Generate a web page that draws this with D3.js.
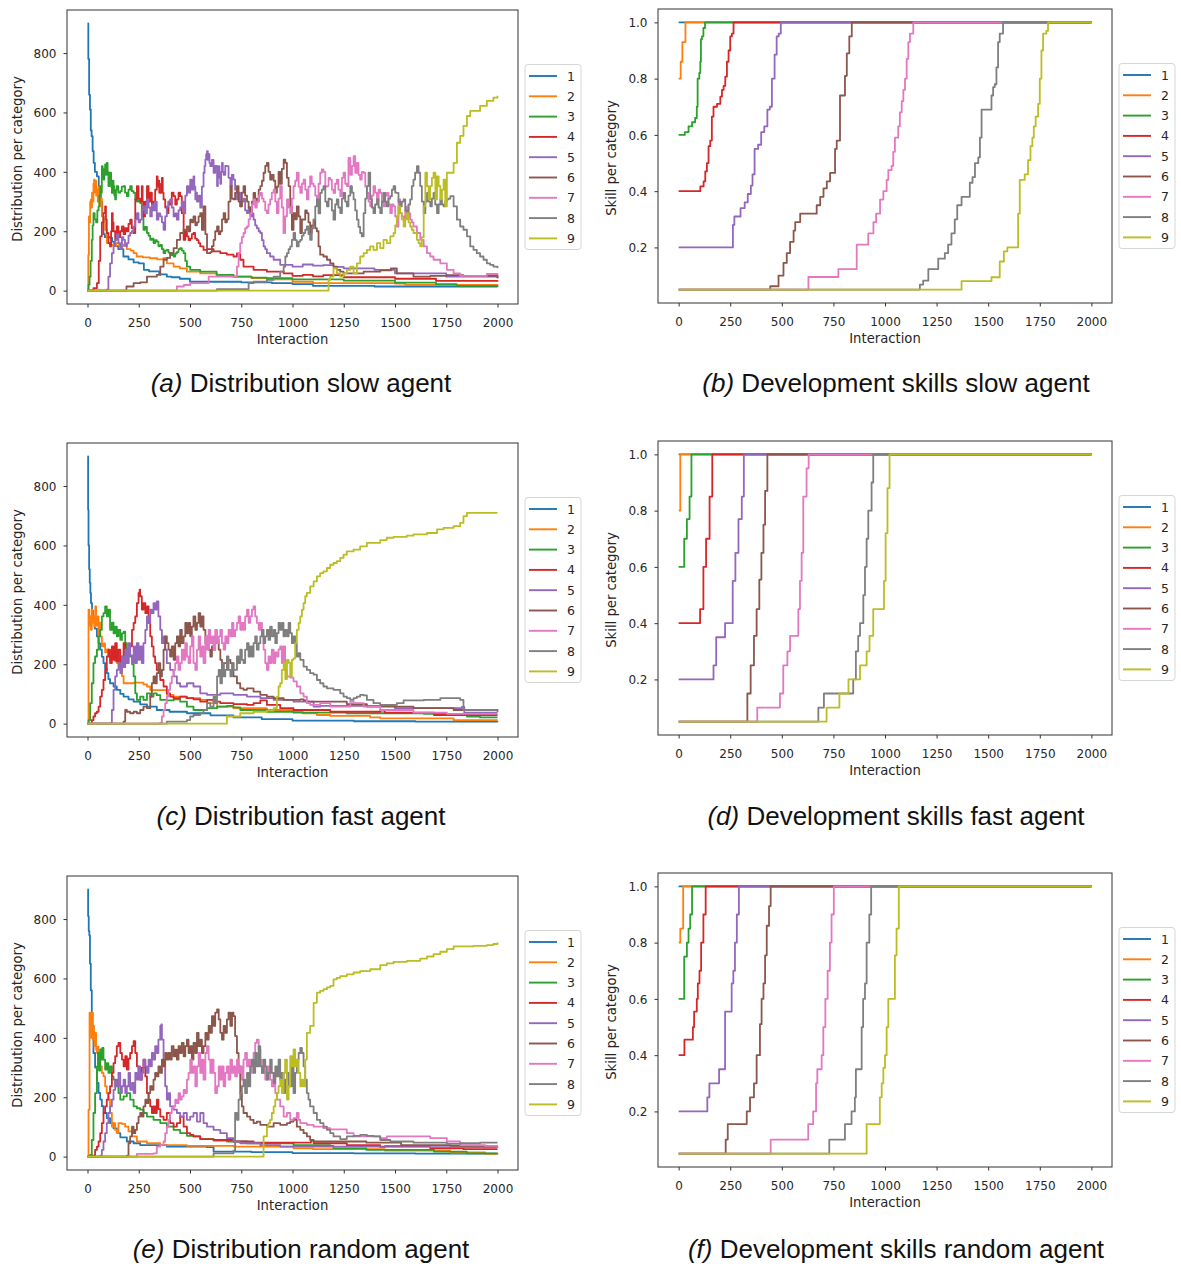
<!DOCTYPE html>
<html>
<head>
<meta charset="utf-8">
<script src="https://cdn.jsdelivr.net/npm/d3@7"></script>
<style>
  body { margin: 0; background: #fff; }
  svg { display: block; }
</style>
</head>
<body>
<svg id="fig" width="1181" height="1266"></svg>
<script>
// ---------- shared labels ----------
const categories = ["1", "2", "3", "4", "5", "6", "7", "8", "9"];
const palette = ["#1f77b4", "#ff7f0e", "#2ca02c", "#d62728", "#9467bd", "#8c564b", "#e377c2", "#7f7f7f", "#bcbd22"];
const xTicks = [0, 250, 500, 750, 1000, 1250, 1500, 1750, 2000];
const distTicks = [0, 200, 400, 600, 800];
const skillTicks = [0.2, 0.4, 0.6, 0.8, 1.0];

// ---------- (a) distribution, slow agent: [interaction, count] ----------
const slowDist1 = [[0,900],[4,780],[8,660],[12,610],[16,540],[20,520],[25,470],[30,430],[36,400],[46,385],[55,340],[65,300],[72,250],[78,190],[85,180],[110,178],[120,165],[130,150],[150,140],[175,115],[200,105],[225,95],[250,92],[275,70],[300,65],[350,55],[387,47],[410,45],[450,40],[500,30],[600,30],[750,28],[900,25],[1000,22],[1100,16],[1400,14],[2000,12]];
const slowDist2 = [[0,0],[4,120],[7,250],[10,230],[13,300],[16,306],[19,280],[22,330],[25,300],[29,360],[32,374],[35,330],[38,370],[42,320],[46,340],[50,300],[54,350],[58,290],[62,284],[66,310],[70,260],[74,250],[78,239],[86,205],[94,160],[110,155],[125,150],[140,160],[155,150],[175,155],[192,140],[210,135],[225,126],[240,115],[270,112],[305,109],[340,105],[370,109],[387,92],[420,81],[450,75],[485,64],[550,58],[630,53],[712,47],[800,42],[875,38],[1000,30],[1100,25],[1500,24],[1550,19],[2000,18]];
const slowDist3 = [[0,0],[5,20],[10,47],[15,100],[21,171],[25,220],[29,261],[35,240],[42,230],[48,270],[54,284],[58,320],[62,352],[66,330],[70,419],[74,380],[78,374],[82,410],[86,425],[90,390],[94,430],[98,400],[102,352],[106,380],[110,397],[115,350],[119,329],[123,370],[127,352],[131,320],[135,307],[139,340],[143,352],[150,330],[160,335],[167,350],[175,352],[183,330],[192,318],[200,340],[208,352],[216,335],[225,329],[233,307],[241,300],[249,305],[257,295],[265,250],[273,205],[281,215],[290,194],[298,185],[306,171],[314,175],[322,160],[330,170],[338,165],[346,150],[355,154],[363,140],[371,126],[379,135],[387,137],[395,128],[403,126],[411,120],[420,115],[428,125],[436,130],[444,140],[452,143],[460,135],[469,126],[477,100],[485,81],[501,70],[550,64],[630,53],[712,47],[800,44],[875,42],[1000,38],[1250,34],[1500,27],[1700,22],[1800,16],[2000,15]];
const slowDist4 = [[0,0],[29,8],[46,25],[55,100],[62,183],[70,230],[78,261],[86,284],[90,240],[94,194],[102,160],[110,149],[115,200],[119,261],[123,230],[127,200],[135,171],[143,216],[151,180],[160,200],[168,216],[176,190],[184,210],[192,200],[200,225],[208,239],[216,210],[225,194],[233,307],[241,352],[249,310],[257,300],[265,352],[269,300],[273,250],[281,300],[290,352],[298,300],[306,330],[314,290],[322,300],[330,340],[338,385],[342,350],[346,370],[350,330],[355,329],[359,360],[363,380],[367,330],[371,307],[379,280],[387,261],[395,300],[403,290],[411,330],[420,318],[428,290],[436,307],[444,330],[452,318],[460,261],[469,171],[477,200],[485,183],[493,170],[501,175],[509,190],[517,194],[525,175],[534,170],[542,160],[550,149],[566,137],[583,140],[615,132],[648,126],[680,121],[712,115],[729,125],[745,104],[761,81],[810,70],[875,64],[957,58],[1000,50],[1050,53],[1100,48],[1150,52],[1250,45],[1500,40],[1700,33],[2000,30]];
const slowDist5 = [[0,0],[94,3],[102,47],[110,92],[119,126],[127,150],[135,171],[143,190],[151,160],[160,140],[168,180],[175,171],[183,150],[192,160],[200,185],[208,194],[216,200],[225,216],[233,240],[241,261],[249,230],[257,239],[265,270],[273,284],[281,260],[290,307],[298,280],[306,250],[314,290],[322,270],[330,300],[338,239],[346,260],[355,250],[363,230],[371,205],[379,250],[387,284],[395,300],[403,307],[411,280],[420,250],[428,260],[436,239],[444,270],[452,280],[460,300],[469,260],[477,320],[485,352],[493,330],[501,374],[509,340],[517,385],[521,350],[526,307],[530,330],[534,300],[542,320],[550,280],[558,350],[566,397],[571,420],[575,442],[579,460],[583,470],[587,440],[591,460],[595,430],[599,419],[607,440],[615,397],[623,420],[632,352],[636,390],[640,419],[644,380],[648,360],[652,400],[656,430],[660,400],[664,390],[672,420],[680,419],[688,380],[697,352],[704,390],[712,374],[720,340],[729,307],[737,330],[745,284],[753,300],[761,310],[769,270],[778,261],[786,280],[794,250],[802,260],[810,239],[818,220],[826,210],[835,200],[843,194],[851,170],[859,149],[867,140],[875,126],[891,115],[908,104],[940,87],[1000,81],[1050,88],[1100,84],[1150,86],[1200,80],[1250,75],[1400,70],[1500,58],[1750,47],[2000,42]];
const slowDist6 = [[0,0],[190,14],[225,25],[257,28],[290,47],[338,53],[355,81],[371,104],[387,110],[403,126],[420,143],[436,171],[452,194],[469,205],[485,216],[493,200],[501,239],[509,230],[517,250],[526,220],[534,230],[542,250],[550,261],[558,205],[566,284],[575,190],[583,126],[599,130],[607,150],[615,171],[623,200],[632,216],[640,190],[648,200],[656,240],[664,261],[672,230],[680,240],[688,300],[697,352],[704,310],[712,307],[720,330],[729,352],[737,300],[745,284],[753,330],[761,352],[769,320],[778,300],[786,280],[794,261],[802,300],[810,329],[818,310],[826,300],[835,340],[843,352],[851,370],[859,397],[867,420],[875,430],[883,400],[891,374],[899,390],[908,370],[916,330],[924,350],[932,400],[940,360],[948,410],[957,441],[965,430],[973,380],[981,352],[989,284],[997,205],[1005,261],[1013,240],[1021,284],[1030,250],[1038,194],[1046,240],[1054,239],[1062,270],[1070,261],[1078,230],[1086,194],[1094,220],[1103,239],[1111,210],[1119,200],[1127,149],[1135,121],[1151,115],[1168,104],[1184,92],[1200,81],[1216,70],[1233,64],[1249,58],[1347,64],[1428,68],[1480,75],[1509,58],[1590,47],[1672,50],[1753,52],[1834,50],[2000,42]];
const slowDist7 = [[0,0],[436,14],[470,19],[501,25],[591,47],[700,47],[729,81],[737,126],[745,160],[753,180],[761,194],[769,210],[778,216],[786,240],[794,261],[802,290],[810,307],[818,280],[826,300],[835,320],[843,329],[851,310],[859,300],[867,270],[875,261],[883,290],[891,307],[899,330],[908,340],[916,300],[924,261],[932,310],[940,352],[948,280],[956,194],[964,250],[973,307],[981,280],[989,261],[997,310],[1005,352],[1013,370],[1021,397],[1030,350],[1038,329],[1046,360],[1054,374],[1062,340],[1070,307],[1078,350],[1086,385],[1094,360],[1103,352],[1111,320],[1119,307],[1127,360],[1135,397],[1143,408],[1151,400],[1160,350],[1168,352],[1176,380],[1184,374],[1192,340],[1200,329],[1208,360],[1216,374],[1224,340],[1233,318],[1241,380],[1249,397],[1257,360],[1265,352],[1273,447],[1282,390],[1290,420],[1298,453],[1306,397],[1314,430],[1322,390],[1330,374],[1338,400],[1347,397],[1355,350],[1363,329],[1371,300],[1379,284],[1387,320],[1395,352],[1403,330],[1412,307],[1420,340],[1428,329],[1436,300],[1444,284],[1452,320],[1460,329],[1468,290],[1477,261],[1485,290],[1493,284],[1501,250],[1509,216],[1517,307],[1525,261],[1533,250],[1542,239],[1550,270],[1558,284],[1566,260],[1574,239],[1582,230],[1590,216],[1607,194],[1623,171],[1640,149],[1656,126],[1672,115],[1688,104],[1721,92],[1753,70],[1786,58],[1818,50],[1883,50],[1948,56],[2000,53]];
const slowDist8 = [[0,0],[631,5],[786,25],[810,30],[875,36],[908,47],[940,64],[957,81],[965,115],[973,126],[981,140],[989,149],[997,171],[1005,194],[1013,170],[1021,149],[1030,165],[1038,171],[1046,185],[1054,194],[1062,205],[1070,216],[1078,190],[1086,171],[1094,210],[1103,239],[1111,284],[1119,307],[1127,260],[1135,329],[1143,340],[1151,352],[1160,300],[1168,284],[1176,310],[1184,307],[1192,270],[1200,239],[1208,290],[1216,307],[1224,280],[1233,261],[1241,310],[1249,329],[1257,300],[1265,284],[1273,320],[1282,352],[1290,330],[1298,307],[1306,270],[1314,239],[1322,215],[1330,194],[1338,183],[1347,261],[1355,310],[1363,352],[1371,397],[1379,307],[1387,280],[1395,261],[1403,290],[1412,307],[1420,280],[1428,261],[1436,300],[1444,329],[1452,300],[1460,284],[1468,310],[1477,318],[1485,340],[1493,352],[1501,330],[1509,329],[1517,300],[1525,284],[1533,300],[1542,307],[1550,270],[1558,250],[1566,290],[1574,307],[1582,352],[1590,374],[1598,397],[1607,419],[1615,397],[1623,352],[1631,300],[1640,261],[1648,300],[1656,329],[1664,300],[1672,284],[1680,310],[1688,329],[1696,290],[1705,261],[1713,290],[1721,307],[1729,290],[1737,284],[1745,300],[1753,307],[1761,310],[1770,318],[1786,284],[1802,239],[1818,216],[1834,205],[1851,183],[1867,149],[1883,137],[1899,126],[1915,115],[1932,104],[1948,92],[1964,87],[1980,81],[2000,75]];
const slowDist9 = [[0,0],[1176,36],[1184,47],[1200,75],[1216,58],[1233,47],[1249,58],[1265,70],[1282,81],[1298,58],[1314,92],[1330,115],[1347,126],[1363,137],[1379,149],[1395,137],[1412,160],[1428,143],[1444,171],[1460,160],[1477,183],[1493,194],[1501,220],[1509,250],[1517,284],[1525,261],[1533,240],[1542,216],[1550,240],[1558,261],[1566,230],[1574,216],[1582,205],[1590,194],[1607,171],[1615,160],[1623,149],[1631,180],[1640,284],[1648,397],[1656,352],[1664,307],[1672,352],[1680,380],[1688,397],[1697,307],[1705,385],[1713,352],[1721,307],[1729,340],[1737,374],[1745,284],[1753,397],[1770,397],[1786,430],[1802,498],[1818,521],[1834,555],[1851,588],[1867,605],[1899,605],[1915,622],[1948,639],[1980,650],[2000,656]];

// ---------- (b) skill development, slow agent: [interaction, skill] ----------
const slowSkill1 = [[0,1],[2000,1]];
const slowSkill2 = [[0,0.8],[10,0.86],[18,0.93],[33,1.0],[2000,1.0]];
const slowSkill3 = [[0,0.6],[30,0.61],[48,0.63],[65,0.645],[80,0.66],[88,0.70],[92,0.80],[100,0.82],[105,0.86],[108,0.94],[113,0.95],[120,0.98],[128,1.0],[2000,1.0]];
const slowSkill4 = [[0,0.4],[105,0.417],[121,0.435],[129,0.47],[137,0.50],[145,0.56],[153,0.58],[161,0.665],[169,0.70],[186,0.71],[202,0.736],[210,0.76],[218,0.774],[226,0.807],[234,0.86],[242,0.90],[250,0.95],[258,0.96],[266,1.0],[2000,1.0]];
const slowSkill5 = [[0,0.2],[263,0.28],[270,0.31],[300,0.34],[320,0.36],[335,0.39],[350,0.42],[358,0.46],[368,0.55],[385,0.565],[400,0.61],[415,0.63],[430,0.69],[442,0.70],[452,0.80],[465,0.885],[475,0.95],[485,0.96],[495,1.0],[2000,1.0]];
const slowSkill6 = [[0,0.05],[444,0.062],[484,0.10],[508,0.145],[524,0.18],[540,0.22],[557,0.26],[565,0.29],[589,0.32],[669,0.35],[686,0.38],[702,0.41],[718,0.435],[734,0.465],[758,0.55],[766,0.58],[782,0.74],[806,0.81],[815,0.89],[827,0.95],[839,1.0],[2000,1.0]];
const slowSkill7 = [[0,0.05],[629,0.095],[774,0.123],[863,0.21],[919,0.25],[944,0.29],[957,0.32],[976,0.37],[992,0.40],[1008,0.44],[1016,0.475],[1032,0.49],[1040,0.54],[1048,0.59],[1064,0.63],[1072,0.68],[1081,0.72],[1089,0.76],[1097,0.80],[1105,0.87],[1113,0.93],[1121,0.96],[1137,1.0],[2000,1.0]];
const slowSkill8 = [[0,0.05],[1169,0.068],[1185,0.082],[1210,0.123],[1258,0.16],[1290,0.18],[1306,0.21],[1322,0.25],[1338,0.30],[1350,0.35],[1371,0.38],[1411,0.43],[1424,0.45],[1436,0.50],[1452,0.52],[1460,0.59],[1468,0.69],[1516,0.74],[1524,0.77],[1532,0.78],[1540,0.84],[1548,0.93],[1556,0.96],[1572,1.0],[2000,1.0]];
const slowSkill9 = [[0,0.05],[1371,0.08],[1516,0.094],[1556,0.15],[1576,0.186],[1593,0.20],[1645,0.32],[1653,0.44],[1677,0.46],[1693,0.51],[1705,0.56],[1714,0.59],[1721,0.63],[1730,0.665],[1742,0.71],[1750,0.80],[1758,0.90],[1766,0.96],[1782,0.97],[1790,1.0],[2000,1.0]];

// ---------- (c) distribution, fast agent ----------
const fastDist1 = [[0,900],[3,720],[5,600],[8,520],[11,474],[14,440],[17,406],[22,380],[28,350],[36,320],[46,294],[54,270],[62,249],[70,225],[78,204],[86,185],[94,170],[102,150],[110,136],[127,125],[143,114],[160,100],[176,91],[200,82],[225,74],[257,65],[290,57],[338,46],[400,40],[485,35],[600,28],[712,21],[850,15],[1000,10],[1300,8],[1600,7],[2000,5]];
const fastDist2 = [[0,0],[5,384],[9,330],[13,361],[17,316],[21,384],[25,340],[29,361],[33,327],[38,395],[42,340],[46,330],[50,361],[54,300],[58,340],[62,294],[70,260],[78,270],[86,240],[94,250],[102,230],[110,215],[118,225],[127,220],[135,210],[143,204],[151,215],[160,192],[168,160],[176,136],[225,138],[273,132],[290,125],[306,113],[371,113],[387,97],[420,91],[480,86],[550,80],[583,69],[632,57],[712,52],[875,46],[1005,40],[1050,35],[1103,35],[1119,29],[1184,26],[1363,26],[1379,21],[1428,18],[1721,18],[1786,12],[2000,12]];
const fastDist3 = [[0,0],[5,12],[13,69],[21,136],[29,204],[37,226],[46,249],[54,294],[62,316],[70,361],[78,372],[86,395],[94,361],[102,384],[110,316],[119,340],[127,304],[135,327],[143,294],[151,316],[160,282],[168,304],[176,310],[184,271],[192,249],[208,226],[218,200],[225,159],[233,102],[241,80],[257,91],[273,80],[290,102],[306,91],[322,102],[338,96],[355,80],[387,78],[420,82],[452,74],[485,57],[517,46],[550,46],[583,52],[632,57],[680,60],[712,55],[745,46],[875,40],[1005,37],[1265,35],[1640,33],[1834,29],[1851,24],[1915,21],[2000,21]];
const fastDist4 = [[0,0],[21,12],[29,24],[37,35],[46,40],[54,57],[62,91],[70,114],[78,147],[86,181],[94,226],[102,249],[110,204],[119,260],[127,215],[135,271],[143,210],[151,249],[160,192],[168,226],[176,271],[184,215],[192,204],[200,249],[208,260],[217,316],[225,339],[233,361],[241,406],[249,440],[254,451],[257,429],[265,384],[273,406],[282,372],[290,395],[298,339],[306,294],[314,260],[322,226],[330,204],[338,181],[355,147],[371,125],[387,102],[403,91],[420,86],[452,91],[485,86],[517,82],[550,74],[583,80],[615,74],[648,69],[712,66],[778,63],[810,69],[843,78],[875,63],[940,52],[1005,46],[1184,40],[1428,44],[1450,37],[1672,37],[1690,29],[2000,29]];
const fastDist5 = [[0,0],[110,2],[119,46],[127,114],[135,159],[143,181],[151,204],[160,170],[168,226],[176,190],[184,249],[192,204],[200,271],[208,230],[217,204],[225,260],[233,204],[241,271],[249,215],[257,260],[265,204],[273,271],[282,316],[290,361],[298,339],[306,384],[314,372],[322,406],[330,384],[338,412],[346,361],[355,316],[363,271],[371,294],[379,249],[387,204],[403,181],[420,159],[436,136],[452,125],[485,136],[517,125],[550,102],[583,97],[648,102],[712,97],[778,91],[843,86],[908,80],[1005,74],[1070,74],[1103,57],[1135,60],[1477,60],[1500,52],[1818,52],[1826,56],[1838,37],[2000,37]];
const fastDist6 = [[0,0],[176,7],[184,46],[192,40],[208,35],[225,40],[241,35],[257,46],[273,57],[290,52],[306,91],[314,136],[322,159],[330,136],[338,170],[346,204],[355,159],[363,181],[371,249],[379,294],[387,271],[395,249],[403,226],[411,260],[420,215],[428,271],[436,294],[444,260],[452,316],[460,271],[469,294],[477,339],[485,304],[493,339],[501,294],[509,327],[517,361],[526,316],[534,339],[542,372],[550,327],[558,361],[566,316],[575,271],[583,294],[591,249],[599,226],[607,260],[615,249],[623,271],[632,282],[640,249],[648,215],[656,181],[664,204],[680,215],[697,204],[712,159],[729,136],[745,119],[761,114],[778,119],[810,108],[843,97],[875,91],[908,86],[957,80],[1038,82],[1054,78],[1070,74],[1265,66],[1363,57],[1590,52],[1786,46],[2000,40]];
const fastDist7 = [[0,0],[355,3],[363,24],[371,46],[379,69],[387,91],[395,114],[403,136],[411,159],[420,181],[428,204],[436,226],[444,181],[452,204],[460,249],[469,215],[477,271],[485,226],[493,204],[501,260],[509,294],[517,204],[526,181],[534,249],[542,294],[550,226],[558,260],[566,204],[575,294],[583,249],[591,316],[599,271],[607,294],[615,249],[623,316],[632,271],[640,294],[648,316],[656,271],[664,249],[672,294],[680,271],[688,316],[697,294],[705,339],[712,294],[720,316],[729,339],[737,361],[745,316],[753,339],[761,316],[769,361],[778,384],[786,339],[794,361],[802,384],[810,395],[818,361],[826,339],[835,316],[843,339],[851,294],[859,249],[867,204],[875,181],[883,226],[891,204],[899,249],[908,204],[916,240],[924,226],[932,250],[940,260],[948,204],[956,260],[964,181],[973,159],[989,155],[1005,142],[1021,125],[1038,102],[1054,91],[1070,69],[1086,63],[1119,63],[1135,69],[1184,57],[1282,74],[1298,69],[1347,57],[1428,46],[1590,37],[1753,33],[2000,33]];
const fastDist8 = [[0,0],[387,7],[485,12],[501,24],[517,29],[550,35],[566,46],[583,69],[599,57],[615,91],[623,69],[632,159],[640,181],[648,136],[656,204],[664,159],[672,181],[680,226],[688,181],[697,159],[705,204],[712,181],[729,226],[737,204],[745,249],[753,215],[761,204],[769,249],[778,271],[786,226],[794,260],[802,226],[810,271],[818,294],[826,249],[835,271],[843,294],[851,316],[859,271],[867,294],[875,316],[883,282],[891,327],[899,294],[908,316],[916,271],[924,305],[932,339],[940,316],[948,339],[956,294],[964,316],[973,294],[981,339],[989,305],[997,271],[1005,294],[1013,271],[1021,226],[1030,237],[1038,215],[1054,192],[1070,181],[1086,170],[1103,165],[1119,147],[1135,136],[1151,125],[1168,119],[1200,114],[1233,102],[1249,91],[1265,86],[1282,80],[1298,86],[1314,91],[1330,97],[1347,95],[1363,80],[1395,69],[1428,63],[1477,63],[1509,69],[1542,78],[1640,80],[1721,86],[1786,86],[1818,80],[1834,46],[2000,46]];
const fastDist9 = [[0,0],[680,24],[745,35],[810,40],[875,44],[908,52],[924,91],[932,125],[940,136],[948,181],[957,204],[965,150],[973,215],[981,205],[989,159],[997,215],[1005,220],[1013,271],[1021,316],[1030,339],[1038,361],[1046,384],[1054,406],[1062,429],[1070,440],[1086,462],[1103,479],[1119,496],[1135,507],[1151,513],[1168,524],[1184,535],[1200,541],[1216,547],[1233,558],[1249,569],[1265,580],[1298,586],[1330,597],[1363,609],[1428,618],[1460,626],[1493,629],[1558,633],[1590,637],[1656,642],[1705,654],[1737,659],[1786,665],[1818,676],[1834,699],[1851,710],[2000,710]];

// ---------- (d) skill development, fast agent ----------
const fastSkill1 = [[0,1],[2000,1]];
const fastSkill2 = [[0,0.8],[8,1.0],[2000,1.0]];
const fastSkill3 = [[0,0.6],[27,0.7],[40,0.77],[53,0.85],[62,1.0],[2000,1.0]];
const fastSkill4 = [[0,0.4],[104,0.45],[120,0.6],[133,0.7],[150,0.85],[163,1.0],[2000,1.0]];
const fastSkill5 = [[0,0.2],[169,0.25],[182,0.35],[225,0.40],[262,0.55],[275,0.65],[290,0.77],[306,0.85],[316,1.0],[2000,1.0]];
const fastSkill6 = [[0,0.05],[333,0.15],[349,0.25],[365,0.355],[378,0.45],[391,0.555],[401,0.65],[411,0.75],[419,0.87],[430,1.0],[2000,1.0]];
const fastSkill7 = [[0,0.05],[381,0.10],[491,0.15],[507,0.25],[527,0.30],[540,0.355],[580,0.45],[588,0.55],[596,0.65],[604,0.85],[620,0.95],[630,1.0],[2000,1.0]];
const fastSkill8 = [[0,0.05],[677,0.10],[704,0.15],[846,0.20],[859,0.30],[870,0.355],[879,0.40],[895,0.50],[903,0.60],[911,0.70],[919,0.80],[935,0.90],[943,1.0],[2000,1.0]];
const fastSkill9 = [[0,0.05],[717,0.10],[779,0.15],[823,0.20],[879,0.25],[911,0.30],[925,0.355],[943,0.45],[995,0.55],[1003,0.72],[1012,0.88],[1022,1.0],[2000,1.0]];

// ---------- (e) distribution, random agent ----------
const randDist1 = [[0,900],[3,810],[6,760],[9,745],[12,650],[16,560],[21,485],[25,400],[29,349],[37,300],[46,248],[54,215],[62,192],[70,170],[78,147],[94,130],[110,113],[127,95],[143,79],[160,65],[192,51],[225,45],[257,39],[387,34],[583,32],[615,17],[800,15],[1000,12],[1300,11],[1600,10],[2000,8]];
const randDist2 = [[0,0],[5,158],[10,485],[13,420],[16,440],[19,400],[21,485],[24,430],[26,394],[29,440],[32,400],[34,372],[37,410],[39,417],[42,360],[46,349],[50,370],[54,340],[58,320],[62,304],[70,282],[78,270],[86,237],[94,214],[102,192],[110,147],[119,101],[127,113],[135,90],[143,79],[151,113],[168,110],[184,101],[200,85],[217,68],[241,51],[290,45],[355,39],[485,36],[712,34],[1005,28],[1100,25],[1428,25],[1450,20],[1753,20],[1770,14],[1915,14],[1940,9],[2000,9]];
const randDist3 = [[0,0],[13,6],[21,56],[29,147],[37,214],[46,304],[51,349],[56,290],[62,361],[67,327],[72,366],[78,327],[86,293],[94,315],[102,282],[110,304],[119,270],[127,259],[135,237],[143,248],[151,214],[160,192],[176,203],[192,214],[208,192],[225,169],[241,163],[257,158],[273,147],[290,135],[322,124],[355,113],[387,101],[420,90],[452,79],[485,70],[517,68],[550,59],[615,54],[680,51],[778,45],[875,45],[1005,39],[1184,36],[1200,28],[1347,28],[1360,23],[1672,23],[1690,17],[1834,17],[1850,11],[2000,11]];
const randDist4 = [[0,0],[21,3],[37,23],[46,34],[54,51],[62,79],[70,113],[78,147],[86,169],[94,192],[102,214],[110,237],[119,282],[127,315],[135,338],[143,372],[151,383],[160,349],[168,327],[176,304],[184,338],[192,293],[200,330],[208,349],[217,372],[225,389],[233,349],[241,304],[249,282],[257,259],[265,300],[273,327],[282,270],[290,214],[298,192],[306,169],[314,147],[322,169],[330,147],[338,192],[346,160],[355,135],[371,124],[387,147],[403,113],[420,101],[436,113],[452,135],[469,101],[485,79],[501,73],[517,68],[550,59],[615,56],[712,51],[810,47],[1070,47],[1090,54],[1103,45],[1265,39],[1428,34],[1672,28],[1834,25],[2000,25]];
const randDist5 = [[0,0],[62,3],[70,23],[78,51],[86,79],[94,113],[102,147],[110,169],[119,192],[127,225],[135,259],[143,237],[151,282],[160,214],[168,237],[176,259],[184,214],[192,237],[200,282],[208,225],[217,248],[225,214],[233,282],[241,259],[249,304],[257,259],[265,282],[273,327],[282,304],[290,282],[298,327],[306,304],[314,349],[322,327],[330,372],[338,349],[346,394],[355,440],[360,445],[363,394],[371,304],[379,237],[387,192],[395,214],[403,169],[420,158],[436,147],[452,135],[469,147],[485,124],[501,135],[517,147],[534,118],[550,147],[566,113],[583,101],[615,90],[648,79],[680,62],[712,51],[745,45],[843,39],[940,34],[1428,32],[1450,36],[1650,36],[1670,32],[2000,30]];
const randDist6 = [[0,0],[192,3],[200,45],[208,68],[217,101],[225,79],[233,90],[241,113],[249,135],[257,147],[265,135],[273,169],[282,192],[290,180],[298,214],[306,237],[314,225],[322,259],[330,282],[338,270],[346,304],[355,282],[363,327],[371,304],[379,349],[387,327],[395,349],[403,327],[411,372],[420,338],[428,360],[436,327],[444,372],[452,349],[460,383],[469,338],[477,372],[485,394],[493,349],[501,372],[509,327],[517,383],[526,349],[534,417],[542,372],[550,394],[558,349],[566,372],[575,417],[583,394],[591,440],[599,417],[607,473],[615,440],[623,485],[632,496],[640,462],[648,417],[656,394],[664,440],[672,417],[680,462],[688,485],[697,440],[705,485],[712,473],[720,406],[729,349],[737,304],[745,214],[753,169],[761,147],[778,135],[794,124],[810,113],[826,118],[843,107],[875,101],[908,113],[940,107],[973,113],[989,118],[1005,124],[1021,101],[1038,90],[1054,79],[1070,68],[1086,56],[1103,51],[1347,51],[1360,47],[1509,47],[1530,39],[1753,39],[1770,36],[2000,36]];
const randDist7 = [[0,0],[241,9],[322,11],[338,34],[355,39],[371,51],[379,79],[387,101],[395,124],[403,147],[411,163],[420,169],[428,192],[436,180],[444,214],[452,192],[460,203],[469,225],[477,214],[485,259],[493,282],[501,327],[509,282],[517,304],[526,237],[534,304],[542,349],[550,282],[558,327],[566,259],[575,349],[583,372],[591,327],[599,282],[607,327],[615,282],[623,214],[632,237],[640,304],[648,259],[656,304],[664,237],[672,282],[680,304],[688,259],[697,327],[705,282],[712,304],[720,270],[729,327],[737,282],[745,304],[753,259],[761,327],[769,349],[778,304],[786,327],[794,282],[802,304],[810,349],[818,383],[826,394],[835,360],[843,327],[851,282],[859,304],[867,259],[875,282],[883,304],[891,259],[899,237],[908,282],[916,214],[924,192],[940,169],[957,135],[973,147],[989,124],[1005,130],[1021,147],[1030,124],[1038,113],[1070,107],[1103,101],[1151,96],[1184,92],[1249,92],[1265,79],[1298,68],[1395,68],[1428,62],[1460,68],[1656,68],[1672,62],[1753,51],[1818,39],[1915,39],[1940,36],[2000,36]];
const randDist8 = [[0,0],[615,11],[712,20],[720,147],[729,124],[737,192],[745,214],[753,237],[761,259],[769,214],[778,282],[786,237],[794,304],[802,327],[810,282],[818,349],[826,304],[835,372],[843,304],[851,282],[859,327],[867,304],[875,259],[883,282],[891,327],[899,282],[908,248],[916,304],[924,270],[932,327],[940,259],[948,282],[957,214],[965,259],[973,282],[981,237],[989,237],[997,304],[1005,214],[1013,282],[1021,327],[1030,349],[1038,366],[1046,349],[1054,304],[1062,259],[1070,214],[1078,192],[1086,169],[1103,147],[1119,124],[1135,113],[1151,101],[1168,90],[1184,79],[1200,68],[1233,59],[1265,68],[1298,70],[1330,73],[1363,70],[1395,68],[1428,56],[1477,51],[1590,47],[1753,43],[1818,45],[1915,47],[2000,47]];
const randDist9 = [[0,0],[859,68],[875,101],[883,113],[891,124],[899,147],[908,169],[916,192],[924,214],[932,237],[940,259],[948,214],[956,282],[964,327],[973,192],[981,237],[989,338],[997,304],[1005,361],[1013,304],[1021,327],[1030,282],[1038,237],[1046,259],[1054,237],[1062,327],[1070,417],[1086,440],[1103,518],[1119,552],[1135,558],[1151,564],[1168,570],[1184,575],[1200,597],[1216,602],[1233,608],[1265,614],[1298,620],[1330,625],[1379,631],[1428,645],[1460,651],[1493,656],[1558,659],[1623,667],[1656,674],[1688,682],[1721,690],[1753,699],[1786,708],[1883,710],[1948,712],[1980,716],[2000,721]];

// ---------- (f) skill development, random agent ----------
const randSkill1 = [[0,1],[2000,1]];
const randSkill2 = [[0,0.8],[8,0.85],[22,1.0],[2000,1.0]];
const randSkill3 = [[0,0.6],[27,0.75],[40,0.80],[48,0.85],[56,0.90],[65,1.0],[2000,1.0]];
const randSkill4 = [[0,0.4],[28,0.455],[69,0.50],[75,0.555],[88,0.60],[93,0.655],[101,0.70],[109,0.80],[120,0.90],[131,1.0],[2000,1.0]];
const randSkill5 = [[0,0.2],[139,0.25],[149,0.30],[196,0.35],[225,0.555],[257,0.655],[265,0.70],[273,0.80],[282,0.90],[292,1.0],[2000,1.0]];
const randSkill6 = [[0,0.05],[228,0.10],[238,0.155],[330,0.20],[346,0.25],[365,0.30],[378,0.40],[394,0.51],[402,0.60],[411,0.655],[419,0.755],[427,0.86],[438,0.93],[446,1.0],[2000,1.0]];
const randSkill7 = [[0,0.05],[446,0.10],[628,0.155],[652,0.20],[666,0.30],[672,0.35],[693,0.40],[701,0.50],[711,0.60],[722,0.70],[733,0.80],[741,0.90],[752,1.0],[2000,1.0]];
const randSkill8 = [[0,0.05],[730,0.10],[806,0.155],[838,0.20],[854,0.25],[859,0.35],[887,0.50],[894,0.60],[903,0.655],[911,0.80],[924,0.90],[933,1.0],[2000,1.0]];
const randSkill9 = [[0,0.05],[911,0.155],[975,0.25],[984,0.30],[992,0.355],[1000,0.40],[1008,0.50],[1016,0.60],[1048,0.755],[1056,0.85],[1067,1.0],[2000,1.0]];

const slowDist = [slowDist1, slowDist2, slowDist3, slowDist4, slowDist5, slowDist6, slowDist7, slowDist8, slowDist9];
const slowSkill = [slowSkill1, slowSkill2, slowSkill3, slowSkill4, slowSkill5, slowSkill6, slowSkill7, slowSkill8, slowSkill9];
const fastDist = [fastDist1, fastDist2, fastDist3, fastDist4, fastDist5, fastDist6, fastDist7, fastDist8, fastDist9];
const fastSkill = [fastSkill1, fastSkill2, fastSkill3, fastSkill4, fastSkill5, fastSkill6, fastSkill7, fastSkill8, fastSkill9];
const randDist = [randDist1, randDist2, randDist3, randDist4, randDist5, randDist6, randDist7, randDist8, randDist9];
const randSkill = [randSkill1, randSkill2, randSkill3, randSkill4, randSkill5, randSkill6, randSkill7, randSkill8, randSkill9];

// ---------- layout of the six sub-figures ----------
const panels = [
  { series: slowDist,  kind: "dist",  left: 67,  right: 518,  top: 10,  bottom: 304,  tag: "(a)", title: " Distribution slow agent",          capX: 301, capY: 392 },
  { series: slowSkill, kind: "skill", left: 658, right: 1112, top: 9,   bottom: 303,  tag: "(b)", title: " Development skills slow agent",    capX: 896, capY: 392 },
  { series: fastDist,  kind: "dist",  left: 67,  right: 518,  top: 443, bottom: 737,  tag: "(c)", title: " Distribution fast agent",          capX: 301, capY: 825 },
  { series: fastSkill, kind: "skill", left: 658, right: 1112, top: 441, bottom: 735,  tag: "(d)", title: " Development skills fast agent",    capX: 896, capY: 825 },
  { series: randDist,  kind: "dist",  left: 67,  right: 518,  top: 876, bottom: 1170, tag: "(e)", title: " Distribution random agent",        capX: 301, capY: 1258 },
  { series: randSkill, kind: "skill", left: 658, right: 1112, top: 873, bottom: 1167, tag: "(f)", title: " Development skills random agent",  capX: 896, capY: 1258 }
];

const svg = d3.select("#fig");
const axisFont = "'DejaVu Sans', sans-serif";
const inkColor = "#262626";

panels.forEach((p, idx) => {
  const isDist = p.kind === "dist";
  const x = d3.scaleLinear().domain([-100, 2100]).range([p.left, p.right]);
  const y = isDist
    ? d3.scaleLinear().domain([-45, 945]).range([p.bottom, p.top])
    : d3.scaleLinear().domain([0.0025, 1.0475]).range([p.bottom, p.top]);

  const g = svg.append("g");
  const clipId = "clip" + idx;
  g.append("clipPath").attr("id", clipId)
    .append("rect").attr("x", p.left).attr("y", p.top)
    .attr("width", p.right - p.left).attr("height", p.bottom - p.top);

  // plotted lines
  const line = d3.line().x(d => x(d[0])).y(d => y(d[1])).curve(d3.curveStepAfter);
  const plot = g.append("g").attr("clip-path", `url(#${clipId})`);
  p.series.forEach((s, i) => {
    plot.append("path").datum(s)
      .attr("d", line)
      .attr("fill", "none")
      .attr("stroke", palette[i])
      .attr("stroke-width", 1.8)
      .attr("stroke-linejoin", "round");
  });

  // x axis
  const xAxis = g.append("g").attr("transform", `translate(0,${p.bottom})`)
    .call(d3.axisBottom(x).tickValues(xTicks).tickSize(3.5).tickPadding(3.5).tickFormat(d3.format("d")));
  xAxis.select(".domain").remove();
  xAxis.selectAll("line").attr("stroke", "#333").attr("stroke-width", 1);
  xAxis.selectAll("text").attr("y", 23).attr("dy", 0)
    .attr("font-family", axisFont).attr("font-size", 12).attr("fill", inkColor);

  // y axis
  const yAxis = g.append("g").attr("transform", `translate(${p.left},0)`)
    .call(d3.axisLeft(y)
      .tickValues(isDist ? distTicks : skillTicks)
      .tickSize(3.5).tickPadding(7)
      .tickFormat(isDist ? d3.format("d") : d3.format(".1f")));
  yAxis.select(".domain").remove();
  yAxis.selectAll("line").attr("stroke", "#333").attr("stroke-width", 1);
  yAxis.selectAll("text").attr("dy", "0.36em")
    .attr("font-family", axisFont).attr("font-size", 12).attr("fill", inkColor);

  // frame
  g.append("rect")
    .attr("x", p.left).attr("y", p.top)
    .attr("width", p.right - p.left).attr("height", p.bottom - p.top)
    .attr("fill", "none").attr("stroke", "#333").attr("stroke-width", 1);

  // axis titles
  g.append("text")
    .attr("x", (p.left + p.right) / 2).attr("y", p.bottom + 40)
    .attr("text-anchor", "middle")
    .attr("font-family", axisFont).attr("font-size", 13.2).attr("fill", inkColor)
    .text("Interaction");
  const yl = isDist ? p.left - 45 : p.left - 42;
  g.append("text")
    .attr("transform", `translate(${yl},${(p.top + p.bottom) / 2 + 2}) rotate(-90)`)
    .attr("text-anchor", "middle")
    .attr("font-family", axisFont).attr("font-size", 13.2).attr("fill", inkColor)
    .text(isDist ? "Distribution per category" : "Skill per category");

  // legend, centred on the right edge of the axes
  const lgX = p.right + 7, lgH = 185, lgW = 56;
  const lgY = (p.top + p.bottom) / 2 - lgH / 2;
  const lg = g.append("g");
  lg.append("rect").attr("x", lgX).attr("y", lgY).attr("width", lgW).attr("height", lgH)
    .attr("rx", 3).attr("fill", "#fff").attr("fill-opacity", 0.8)
    .attr("stroke", "#d6d6d6").attr("stroke-width", 1);
  categories.forEach((c, i) => {
    const cy = lgY + 11.5 + i * 20.3;
    lg.append("line").attr("x1", lgX + 4).attr("x2", lgX + 32).attr("y1", cy).attr("y2", cy)
      .attr("stroke", palette[i]).attr("stroke-width", 1.9);
    lg.append("text").attr("x", lgX + 42).attr("y", cy).attr("dy", "0.36em")
      .attr("font-family", axisFont).attr("font-size", 12.5).attr("fill", inkColor)
      .text(c);
  });

  // sub-figure caption
  const cap = g.append("text")
    .attr("x", p.capX).attr("y", p.capY)
    .attr("text-anchor", "middle")
    .attr("font-family", "'Liberation Sans', Arial, sans-serif")
    .attr("font-size", 26).attr("fill", "#111");
  cap.append("tspan").attr("font-style", "italic").text(p.tag);
  cap.append("tspan").text(p.title);
});
</script>
</body>
</html>
